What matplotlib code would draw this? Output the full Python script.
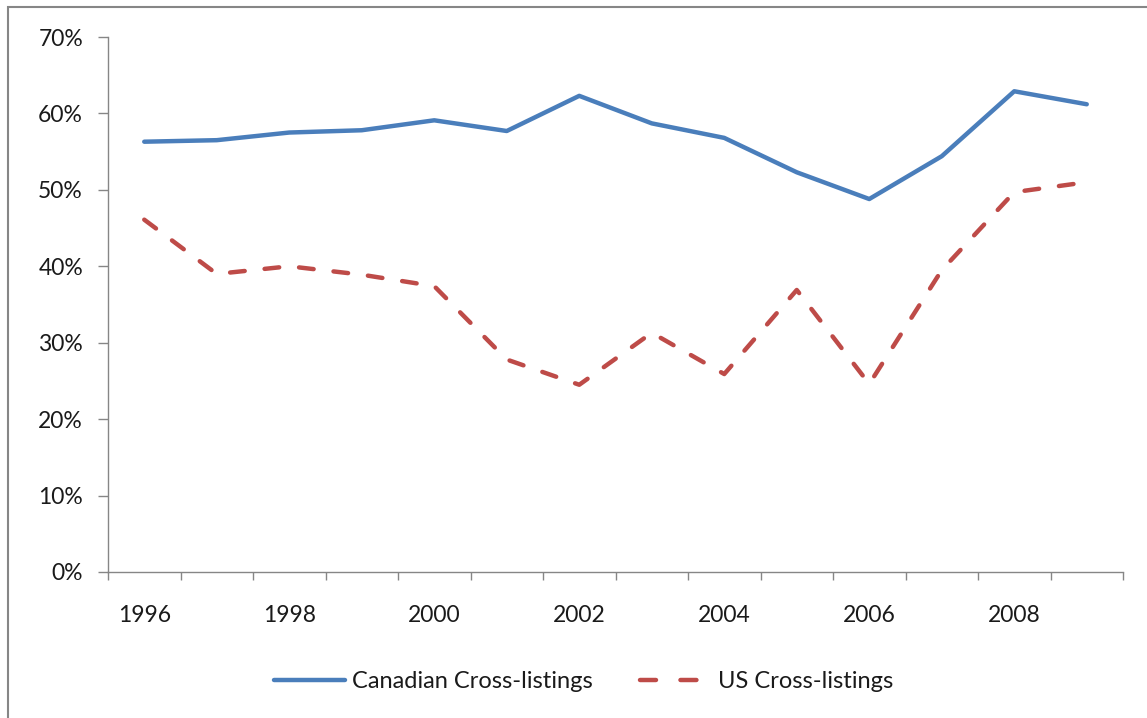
import matplotlib
matplotlib.use("Agg")
import matplotlib.pyplot as plt
from matplotlib.ticker import FixedLocator, FuncFormatter
from matplotlib.patches import Rectangle

years = list(range(1996, 2010))
canadian = [56.3, 56.5, 57.5, 57.8, 59.1, 57.7, 62.3, 58.7, 56.8, 52.3, 48.8, 54.4, 62.9, 61.2]
us = [46.1, 39.0, 40.0, 38.9, 37.4, 27.8, 24.5, 31.3, 25.9, 36.9, 24.6, 39.5, 49.7, 51.0]
year_labels = [str(y) if y % 2 == 0 else "" for y in years]
yticks = [0, 10, 20, 30, 40, 50, 60, 70]

plt.rcParams['font.family'] = ['Lato', 'DejaVu Sans']

W, H = 1147, 718
fig = plt.figure(figsize=(W / 100, H / 100), dpi=100)
fig.patches.append(Rectangle((8 / W, -0.1), 1.2, 1 - 7 / H + 0.1, transform=fig.transFigure,
                             fill=False, edgecolor='#868686', linewidth=1.5))

ax = fig.add_axes([108 / W, (H - 572) / H, (1123 - 108) / W, (572 - 37) / H])
x = list(range(len(years)))
ax.plot(x, canadian, color='#4A7EBB', linewidth=3.2, solid_capstyle='round',
        solid_joinstyle='round', label='Canadian Cross-listings')
ax.plot(x, us, color='#BE4B48', linewidth=3.2, linestyle=(0, (3.3, 4.5)),
        dash_capstyle='round', label='US Cross-listings')

ax.set_xlim(-0.5, len(years) - 0.5)
ax.set_ylim(0, 70)
ax.xaxis.set_major_locator(FixedLocator([i - 0.5 for i in range(len(years) + 1)]))
ax.xaxis.set_major_formatter(FuncFormatter(lambda v, p: ""))
ax.xaxis.set_minor_locator(FixedLocator(x))
ax.set_xticklabels(year_labels, minor=True)
ax.tick_params(axis='x', which='major', length=6, width=1, color='#868686', direction='out')
ax.tick_params(axis='x', which='minor', length=0, pad=24, labelsize=16.5, labelcolor='#1a1a1a')

ax.set_yticks(yticks)
ax.set_yticklabels([f"{v}%" for v in yticks])
ax.tick_params(axis='y', length=7, width=1, color='#868686', direction='out', pad=11,
               labelsize=16.5, labelcolor='#1a1a1a')

for s in ['top', 'right']:
    ax.spines[s].set_visible(False)
for s in ['left', 'bottom']:
    ax.spines[s].set_color('#868686')
    ax.spines[s].set_linewidth(1)

leg = fig.legend(loc='center', bbox_to_anchor=(583.5 / W, (H - 682) / H), ncol=2, frameon=False,
                 fontsize=17, handlelength=3.0, handletextpad=0.3, columnspacing=2.0)
leg.get_lines()[1].set_linestyle((0, (3.6, 5.5)))
for t in leg.get_texts():
    t.set_color('#1a1a1a')

fig.savefig("out.png", dpi=100)
